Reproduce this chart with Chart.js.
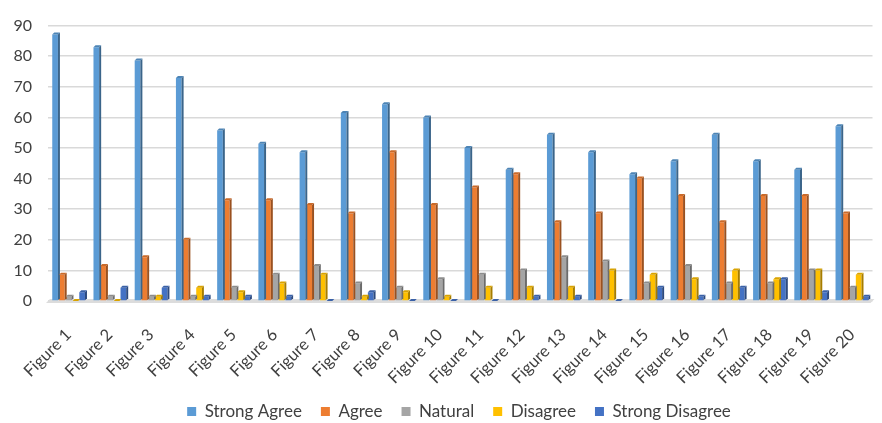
<!DOCTYPE html>
<html>
<head>
<meta charset="utf-8">
<script src="https://cdn.jsdelivr.net/npm/chart.js@4/dist/chart.umd.min.js"></script>
<style>
  html, body { margin: 0; padding: 0; background: #ffffff; }
  #wrap { width: 882px; height: 423px; }
</style>
</head>
<body>
<div id="wrap"><canvas id="c" width="882" height="423"></canvas></div>
<script>
// Survey responses per figure (percent of respondents)
const categories = ['Figure 1','Figure 2','Figure 3','Figure 4','Figure 5','Figure 6','Figure 7','Figure 8','Figure 9','Figure 10',
                    'Figure 11','Figure 12','Figure 13','Figure 14','Figure 15','Figure 16','Figure 17','Figure 18','Figure 19','Figure 20'];
const strongAgree    = [87.1, 82.9, 78.6, 72.9, 55.7, 51.4, 48.6, 61.4, 64.3, 60.0, 50.0, 42.9, 54.3, 48.6, 41.4, 45.7, 54.3, 45.7, 42.9, 57.1];
const agree          = [8.6, 11.4, 14.3, 20.0, 32.9, 32.9, 31.4, 28.6, 48.6, 31.4, 37.1, 41.4, 25.7, 28.6, 40.0, 34.3, 25.7, 34.3, 34.3, 28.6];
const natural        = [1.4, 1.4, 1.4, 1.4, 4.3, 8.6, 11.4, 5.7, 4.3, 7.1, 8.6, 10.0, 14.3, 12.9, 5.7, 11.4, 5.7, 5.7, 10.0, 4.3];
const disagree       = [0, 0, 1.4, 4.3, 2.9, 5.7, 8.6, 1.4, 2.9, 1.4, 4.3, 4.3, 4.3, 10.0, 8.6, 7.1, 10.0, 7.1, 10.0, 8.6];
const strongDisagree = [2.9, 4.3, 4.3, 1.4, 1.4, 1.4, 0, 2.9, 0, 0, 0, 1.4, 1.4, 0, 4.3, 1.4, 4.3, 7.1, 2.9, 1.4];
const yTicks = [0, 10, 20, 30, 40, 50, 60, 70, 80, 90];

const seriesNames  = ['Strong Agree', 'Agree', 'Natural', 'Disagree', 'Strong Disagree'];
const seriesValues = [strongAgree, agree, natural, disagree, strongDisagree];
const seriesColors = ['#5B9BD5', '#ED7D31', '#A5A5A5', '#FFC000', '#4472C4'];

function shade(hex, f) {
  const n = parseInt(hex.slice(1), 16);
  let r = (n >> 16) & 255, g = (n >> 8) & 255, b = n & 255;
  if (f < 0) { r = r * (1 + f); g = g * (1 + f); b = b * (1 + f); }
  else { r = r + (255 - r) * f; g = g + (255 - g) * f; b = b + (255 - b) * f; }
  return 'rgb(' + Math.round(r) + ',' + Math.round(g) + ',' + Math.round(b) + ')';
}

// Floor strip under the bars
const floorPlugin = {
  id: 'floor',
  beforeDatasetsDraw(chart) {
    const { ctx, chartArea } = chart;
    const y0 = chart.scales.y.getPixelForValue(0);
    ctx.save();
    ctx.fillStyle = '#dcdcdc';
    ctx.beginPath();
    ctx.moveTo(chartArea.left - 2, y0 + 2);
    ctx.lineTo(chartArea.left + 2, y0 - 2);
    ctx.lineTo(chartArea.right + 2, y0 - 2);
    ctx.lineTo(chartArea.right - 2, y0 + 2);
    ctx.closePath();
    ctx.fill();
    ctx.restore();
  }
};

// Side and top faces that give each column some depth
const depthPlugin = {
  id: 'depth',
  afterDatasetsDraw(chart) {
    const ctx = chart.ctx;
    const d = 2;
    chart.data.datasets.forEach((ds, i) => {
      const meta = chart.getDatasetMeta(i);
      const col = seriesColors[i];
      meta.data.forEach(bar => {
        const { x, y, base, width } = bar.getProps(['x', 'y', 'base', 'width'], true);
        const l = x - width / 2, r = x + width / 2;
        ctx.save();
        ctx.fillStyle = shade(col, -0.35);
        ctx.beginPath();
        ctx.moveTo(r, y);
        ctx.lineTo(r + d, y - d);
        ctx.lineTo(r + d, base - d);
        ctx.lineTo(r, base);
        ctx.closePath();
        ctx.fill();
        ctx.fillStyle = shade(col, -0.15);
        ctx.beginPath();
        ctx.moveTo(l, y);
        ctx.lineTo(l + d, y - d);
        ctx.lineTo(r + d, y - d);
        ctx.lineTo(r, y);
        ctx.closePath();
        ctx.fill();
        ctx.restore();
      });
    });
  }
};

// Nudge the legend row right and place it near the bottom edge
const legendPlacePlugin = {
  id: 'legendPlace',
  beforeDraw(chart) {
    const lg = chart.legend;
    if (!lg) return;
    const h = lg.bottom - lg.top;
    lg.left = 36; lg.right = 882;
    lg.top = 384; lg.bottom = 384 + h;
  }
};

const datasets = seriesNames.map((name, i) => ({
  label: name,
  data: seriesValues[i],
  backgroundColor: seriesColors[i],
  borderWidth: 0,
  categoryPercentage: 0.82,
  barPercentage: 0.84
}));

new Chart(document.getElementById('c'), {
  type: 'bar',
  data: { labels: categories, datasets },
  plugins: [floorPlugin, depthPlugin, legendPlacePlugin],
  options: {
    responsive: false,
    animation: false,
    devicePixelRatio: 1,
    layout: { padding: { left: 0, right: 4, top: 6, bottom: -24 } },
    plugins: {
      legend: {
        position: 'bottom',
        labels: {
          boxWidth: 9, boxHeight: 9, padding: 19,
          color: '#404040',
          font: { family: 'Lato', size: 17 }
        }
      },
      tooltip: { enabled: false }
    },
    scales: {
      x: {
        grid: { display: false },
        border: { display: false },
        ticks: {
          minRotation: 45, maxRotation: 45, padding: 16,
          color: '#404040',
          font: { family: 'Lato', size: 16.5 }
        },
        afterFit(scale) { scale.height = 100; }
      },
      y: {
        min: 0, max: 90,
        afterBuildTicks(scale) { scale.ticks = yTicks.map(v => ({ value: v })); },
        grid: { color: '#d9d9d9', lineWidth: 1.5, drawTicks: false },
        border: { display: false },
        ticks: {
          padding: 16,
          color: '#404040',
          font: { family: 'Lato', size: 16 }
        },
        afterFit(scale) { scale.width = 48; }
      }
    }
  }
});
</script>
</body>
</html>
